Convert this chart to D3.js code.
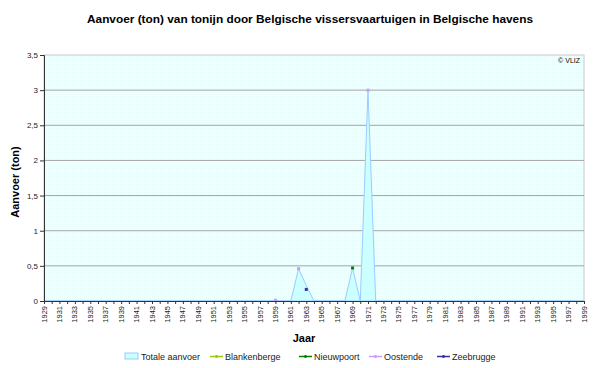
<!DOCTYPE html>
<html>
<head>
<meta charset="utf-8">
<script src="https://cdn.jsdelivr.net/npm/d3@7"></script>
<style>
  body { margin: 0; background: #fff; }
  svg { display: block; }
</style>
</head>
<body>
<div id="chart"></div>
<script>
const FONT = "'Liberation Sans', Arial, sans-serif";
const COLOR_AREA = "#CCFFFF";
const COLOR_AREA_EDGE = "#99CCFF";
const COLOR_GRID = "#A6A6A6";
const COLOR_TEXT = "#222";

// data
const years = [
  1929, 1930, 1931, 1932, 1933, 1934, 1935, 1936, 1937, 1938,
  1939, 1940, 1941, 1942, 1943, 1944, 1945, 1946, 1947, 1948,
  1949, 1950, 1951, 1952, 1953, 1954, 1955, 1956, 1957, 1958,
  1959, 1960, 1961, 1962, 1963, 1964, 1965, 1966, 1967, 1968,
  1969, 1970, 1971, 1972, 1973, 1974, 1975, 1976, 1977, 1978,
  1979, 1980, 1981, 1982, 1983, 1984, 1985, 1986, 1987, 1988,
  1989, 1990, 1991, 1992, 1993, 1994, 1995, 1996, 1997, 1998, 1999
];
const totaleAanvoer = [
  0, 0, 0, 0, 0, 0, 0, 0, 0, 0,
  0, 0, 0, 0, 0, 0, 0, 0, 0, 0,
  0, 0, 0, 0, 0, 0, 0, 0, 0, 0,
  0.01, 0, 0, 0.46, 0.22, 0, 0, 0, 0, 0,
  0.47, 0, 3.0, 0, 0, 0, 0, 0, 0, 0,
  0, 0, 0, 0, 0, 0, 0, 0, 0, 0,
  0, 0, 0, 0, 0, 0, 0, 0, 0, 0, 0
];
// isolated yearly values per port (other years empty)
const blankenberge = [];
const nieuwpoort = [[1969, 0.47]];
const oostende = [[1959, 0.01], [1962, 0.46], [1971, 3.0]];
const zeebrugge = [[1963, 0.165]];
const yTicks = [0, 0.5, 1, 1.5, 2, 2.5, 3, 3.5];

const series = [
  { name: "Blankenberge", color: "#99CC00", values: blankenberge },
  { name: "Nieuwpoort", color: "#008000", values: nieuwpoort },
  { name: "Oostende", color: "#CC99FF", values: oostende },
  { name: "Zeebrugge", color: "#333399", values: zeebrugge }
];

const chartSize = { width: 600, height: 368 };
const plot = { left: 44, right: 584, top: 55, bottom: 301 };

const svg = d3.select("#chart").append("svg")
  .attr("width", chartSize.width)
  .attr("height", chartSize.height)
  .attr("font-family", FONT);

const x = d3.scaleLinear().domain([years[0], years[years.length - 1]]).range([plot.left, plot.right]);
const y = d3.scaleLinear().domain([0, 3.5]).range([plot.bottom, plot.top]);

// plot background
const defs = svg.append("defs");
const pat = defs.append("pattern").attr("id", "dots")
  .attr("width", 2).attr("height", 2).attr("patternUnits", "userSpaceOnUse");
pat.append("rect").attr("width", 2).attr("height", 2).attr("fill", "#F2FFFF");
pat.append("rect").attr("width", 1).attr("height", 1).attr("fill", "#E6FAFA");

svg.append("rect")
  .attr("x", plot.left).attr("y", plot.top)
  .attr("width", plot.right - plot.left).attr("height", plot.bottom - plot.top)
  .attr("fill", "url(#dots)")
  .attr("stroke", "#C8C8C8");

// grid
svg.append("g").selectAll("line")
  .data(yTicks.filter(d => d > 0 && d < 3.5)).enter().append("line")
  .attr("x1", plot.left).attr("x2", plot.right)
  .attr("y1", d => y(d)).attr("y2", d => y(d))
  .attr("stroke", COLOR_GRID).attr("stroke-width", 1);

// area
const area = d3.area()
  .x((d, i) => x(years[i]))
  .y0(y(0))
  .y1(d => y(d));
svg.append("path")
  .datum(totaleAanvoer)
  .attr("d", area)
  .attr("fill", COLOR_AREA)
  .attr("stroke", COLOR_AREA_EDGE)
  .attr("stroke-width", 1);

// series markers (no neighbouring values, so no line segments)
series.forEach(s => {
  svg.append("g").selectAll("rect")
    .data(s.values).enter().append("rect")
    .attr("x", d => x(d[0]) - 1.5).attr("y", d => y(d[1]) - 1.5)
    .attr("width", 3).attr("height", 3)
    .attr("fill", s.color);
});

// y axis
svg.append("g")
  .attr("transform", "translate(" + plot.left + ",0)")
  .call(d3.axisLeft(y).tickValues(yTicks).tickSize(4).tickFormat(d => String(d).replace(".", ",")))
  .call(g => {
    g.select(".domain").attr("stroke", "#333");
    g.selectAll(".tick line").attr("stroke", "#333");
    g.selectAll("text").attr("font-size", "8px").attr("fill", COLOR_TEXT).attr("font-family", FONT).attr("x", -6);
  });

// x axis
svg.append("g")
  .attr("transform", "translate(0," + plot.bottom + ")")
  .call(d3.axisBottom(x).tickValues(years).tickSize(3).tickFormat(""))
  .call(g => {
    g.select(".domain").attr("stroke", "#333");
    g.selectAll(".tick line").attr("stroke", "#333");
  });

svg.append("g").selectAll("text")
  .data(years.filter((d, i) => i % 2 === 0)).enter().append("text")
  .attr("transform", d => "translate(" + (x(d) + 2.5) + "," + (plot.bottom + 5) + ") rotate(-90)")
  .attr("text-anchor", "end")
  .attr("font-size", "7.5px")
  .attr("fill", COLOR_TEXT)
  .text(d => d);

// titles
svg.append("text")
  .attr("x", 310).attr("y", 23)
  .attr("text-anchor", "middle")
  .attr("font-size", "11.5px").attr("font-weight", "bold")
  .attr("textLength", 446).attr("lengthAdjust", "spacingAndGlyphs")
  .text("Aanvoer (ton) van tonijn door Belgische vissersvaartuigen in Belgische havens");

svg.append("text")
  .attr("transform", "translate(19,182) rotate(-90)")
  .attr("text-anchor", "middle")
  .attr("font-size", "11px").attr("font-weight", "bold")
  .text("Aanvoer (ton)");

svg.append("text")
  .attr("x", 304).attr("y", 342)
  .attr("text-anchor", "middle")
  .attr("font-size", "11px").attr("font-weight", "bold")
  .text("Jaar");

svg.append("text")
  .attr("x", 580).attr("y", 63)
  .attr("text-anchor", "end")
  .attr("font-size", "7px")
  .text("© VLIZ");

// legend
const legend = svg.append("g").attr("font-size", "9px").attr("fill", COLOR_TEXT);
const legY = 360;
legend.append("rect")
  .attr("x", 125).attr("y", legY - 7).attr("width", 13).attr("height", 6)
  .attr("fill", COLOR_AREA).attr("stroke", COLOR_AREA_EDGE);
legend.append("text").attr("x", 141).attr("y", legY).text("Totale aanvoer");
const legX = [210, 299, 369, 437];
series.forEach((s, i) => {
  legend.append("line")
    .attr("x1", legX[i]).attr("x2", legX[i] + 13)
    .attr("y1", legY - 3.5).attr("y2", legY - 3.5)
    .attr("stroke", s.color).attr("stroke-width", 1.5);
  legend.append("rect")
    .attr("x", legX[i] + 5.5).attr("y", legY - 5).attr("width", 2).attr("height", 3)
    .attr("fill", s.color);
  legend.append("text").attr("x", legX[i] + 15).attr("y", legY).text(s.name);
});
</script>
</body>
</html>
